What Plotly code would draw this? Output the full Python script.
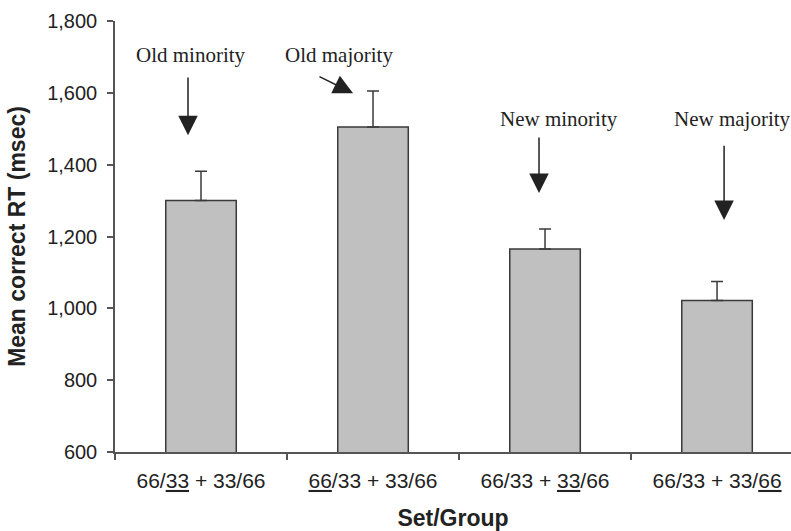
import plotly.graph_objects as go

# Data
categories = ["66/<u>33</u> + 33/66", "<u>66</u>/33 + 33/66", "66/33 + <u>33</u>/66", "66/33 + 33/<u>66</u>"]
mean_rt = [1300, 1505, 1165, 1022]
rt_error = [82, 100, 56, 53]
y_ticks = [600, 800, 1000, 1200, 1400, 1600, 1800]

# Annotation labels (text, text position, arrow tail, arrow tip) in data units (category index, msec)
labels = ["Old minority", "Old majority", "New minority", "New majority"]
label_pos = [(-0.058, 1705), (0.802, 1705), (2.081, 1527), (3.09, 1527)]
arrow_tail = [(-0.0756, 1647), (0.680, 1647), (1.965, 1480), (3.041, 1457)]
arrow_tip = [(-0.0756, 1482), (0.884, 1599), (1.965, 1321), (3.041, 1246)]

fig = go.Figure()
fig.add_trace(go.Bar(
    x=categories, y=mean_rt,
    width=0.41,
    marker=dict(color="#c0c0c0", line=dict(color="#3a3a3a", width=1.5)),
    error_y=dict(type="data", array=rt_error, arrayminus=[0]*len(rt_error),
                 symmetric=False, color="#3a3a3a", thickness=1.5, width=6),
    hoverinfo="skip",
))

annotations = []
for t, (tx, ty) in zip(labels, label_pos):
    annotations.append(dict(x=tx, y=ty, xref="x", yref="y", text=t, showarrow=False,
                            font=dict(family="Liberation Serif", size=21, color="#222")))
for (ax, ay), (hx, hy) in zip(arrow_tail, arrow_tip):
    annotations.append(dict(x=hx, y=hy, ax=ax, ay=ay, xref="x", yref="y", axref="x", ayref="y",
                            text="", showarrow=True, arrowhead=2, arrowsize=2.6,
                            arrowwidth=1.5, arrowcolor="#222"))

fig.update_layout(
    width=791, height=531,
    margin=dict(l=115, r=0, t=21, b=79, autoexpand=False),
    plot_bgcolor="white", paper_bgcolor="white",
    showlegend=False,
    annotations=annotations,
    font=dict(family="Liberation Sans", color="#222"),
)
fig.update_xaxes(
    type="category", range=[-0.5, 3.43], automargin=False,
    showline=True, linecolor="#555", linewidth=1.5,
    ticks="outside", tickson="boundaries", ticklen=6, tickcolor="#555", tickwidth=1.5,
    tickfont=dict(family="Liberation Sans", size=21, color="#222"),
    ticklabelstandoff=9,
    showgrid=False, zeroline=False,
    title=dict(text="<b>Set/Group</b>", font=dict(family="Liberation Sans", size=23, color="#222"), standoff=21),
)
fig.update_yaxes(
    range=[600, 1800], tickvals=y_ticks, tickformat=",", automargin=False,
    showline=True, linecolor="#555", linewidth=1.5,
    ticks="outside", ticklen=6, tickcolor="#555", tickwidth=1.5,
    tickfont=dict(family="Liberation Sans", size=20, color="#222"),
    ticklabelstandoff=6,
    showgrid=False, zeroline=False,
    title=dict(text="<b>Mean correct RT (msec)</b>", font=dict(family="Liberation Sans", size=23, color="#222"), standoff=15),
)
fig.write_html("out.html", config={"displayModeBar": False},
               post_script="document.body.style.margin='0';document.body.style.overflow='hidden';")
